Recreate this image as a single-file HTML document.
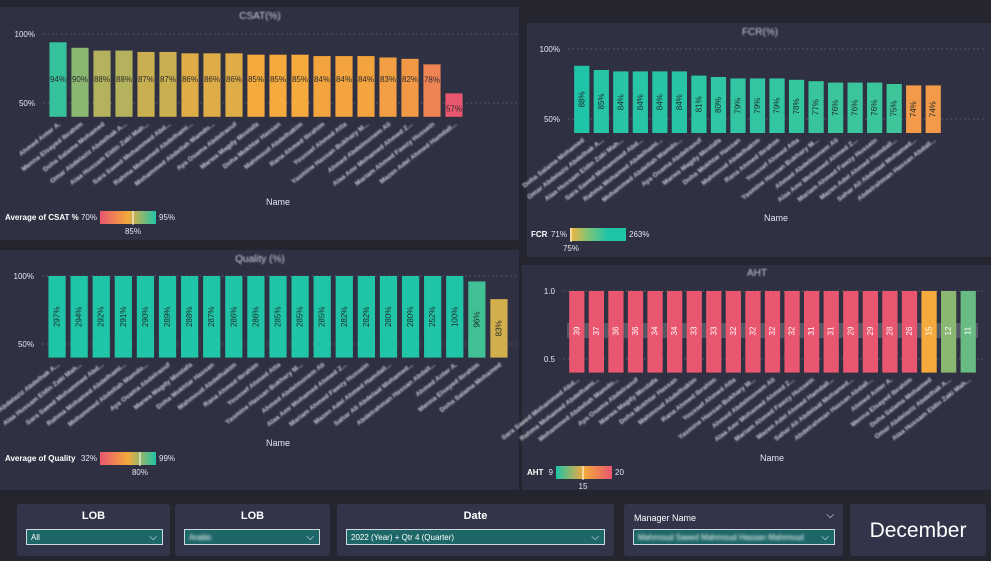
<!DOCTYPE html>
<html><head><meta charset="utf-8">
<style>
body{margin:0;width:991px;height:561px;background:#24252f;font-family:"Liberation Sans",sans-serif;overflow:hidden;position:relative}
.panel{position:absolute;background:#2f3142}
svg{position:absolute;left:0;top:0}
.flt{position:absolute;background:#32344a;border-radius:3px}
.flt .t{position:absolute;width:100%;text-align:center;top:6px;color:#fff;font-size:11px;font-weight:bold}
.dd{position:absolute;background:#1e6769;border:1px solid #cfd8dc;height:16px;color:#fff;font-size:8px;line-height:16px;padding-left:4px;box-sizing:border-box}
.dd span.ch{position:absolute;right:5px;top:0;font-size:10px}
.blur{filter:blur(1.3px)}
</style></head><body>
<div class="panel" style="left:0;top:7px;width:519px;height:233px"></div>
<div class="panel" style="left:527px;top:23px;width:464px;height:234px"></div>
<div class="panel" style="left:0;top:250px;width:519px;height:240px"></div>
<div class="panel" style="left:522px;top:265px;width:469px;height:225px"></div>
<svg id="chart" width="991" height="561"></svg>

<div class="flt" style="left:17px;top:504px;width:153px;height:52px"><div class="t">LOB</div>
<div class="dd" style="left:9px;top:25px;width:137px">All<span class="ch">⌵</span></div></div>
<div class="flt" style="left:175px;top:504px;width:155px;height:52px"><div class="t">LOB</div>
<div class="dd" style="left:9px;top:25px;width:136px"><span class="blur">Arabic</span><span class="ch">⌵</span></div></div>
<div class="flt" style="left:337px;top:504px;width:277px;height:52px"><div class="t">Date</div>
<div class="dd" style="left:9px;top:25px;width:259px">2022 (Year) + Qtr 4 (Quarter)<span class="ch">⌵</span></div></div>
<div class="flt" style="left:624px;top:504px;width:219px;height:52px"><div style="position:absolute;left:10px;top:9px;color:#fff;font-size:9px">Manager Name</div><div style="position:absolute;right:9px;top:6px;color:#fff;font-size:10px">⌵</div>
<div class="dd" style="left:9px;top:25px;width:202px"><span class="blur">Mahmoud Saeed Mahmoud Hassan Mahmoud</span><span class="ch">⌵</span></div></div>
<div class="flt" style="left:850px;top:504px;width:136px;height:52px"><div style="position:absolute;width:100%;text-align:center;top:15px;color:#fff;font-size:21px">December</div></div>

<script>
const names=["Ahmed Anter A.","Menna Elsayed Ibrahim","Doha Salama Mohamed","Omar Abdelaziz Abdelhak A...","Alaa Hussam Eldin Zaki Mah...","Sara Saeed Mohammed Abd...","Rahma Mohamed Abdelhami...","Mohammed Abdellah Mamdo...","Aya Osama Abdelraouf","Marwa Magdy Mostafa","Doha Mokhtar Hassan","Mahmoud Abdelhakim","Rana Ahmed Ibrahim","Youssef Ahmed Atta","Yasmine Hassan Bukhary M...","Ahmed Abdelmonem Ali","Alaa Amr Mohamed Ahmed Z...","Mariam Ahmed Fawzy Hussein","Mazen Adel Ahmed Hamdall...","Sahar Ali Abdelaal Mohamed...","Abdelrahman Hassan Abdall..."];
const csatValues=[94,90,88,88,87,87,86,86,86,85,85,85,84,84,84,83,82,78,57];
const fcrValues=[88,85,84,84,84,84,81,80,79,79,79,78,77,76,76,76,75,74,74];
const qualityValues=[297,294,292,291,290,289,288,287,286,286,285,285,285,282,282,280,280,252,100,96,83];
const ahtValues=[39,37,36,36,34,34,33,33,32,32,32,32,31,31,29,29,28,26,15,12,11];
const csatTicks=["100%","50%"];const fcrTicks=["100%","50%"];const qualityTicks=["100%","50%"];const ahtTicks=["1.0","0.5"];

const svg=document.getElementById('chart');const NS="http://www.w3.org/2000/svg";
function mk(tag,attrs,parent){const e=document.createElementNS(NS,tag);for(const k in attrs)e.setAttribute(k,attrs[k]);(parent||svg).appendChild(e);return e;}
function hex(c){return [parseInt(c.slice(1,3),16),parseInt(c.slice(3,5),16),parseInt(c.slice(5,7),16)];}
function mix(a,b,t){a=hex(a);b=hex(b);t=Math.max(0,Math.min(1,t));return 'rgb('+a.map((v,i)=>Math.round(v+(b[i]-v)*t)).join(',')+')';}
function colorScale(v,lo,mid,hi,cLo,cMid,cHi){if(v<=mid)return mix(cLo,cMid,(v-lo)/(mid-lo));return mix(cMid,cHi,(v-mid)/(hi-mid));}
const RED="#e8566f",ORG="#f4aa3c",TEAL="#20c4a6";

function chart(o){
  const n=o.values.length,pitch=(o.x1-o.x0)/n,bw=pitch*0.78;
  const y=v=>o.yTop+(o.tMax-v)*(o.yBot-o.yTop)/(o.tMax-o.tMin);
  const yBase=y(o.dMin);
  mk('text',{x:o.titleX,y:o.titleY,fill:'#c8cad4','font-size':10,'text-anchor':'middle',filter:'url(#bl)'}).textContent=o.title;
  [o.tMax,o.tMin].forEach((t,i)=>{
    const l=mk('line',{x1:o.x0-4,x2:o.gridEnd,y1:y(t),y2:y(t),stroke:'#5d6070','stroke-dasharray':'1.5,3'});
    
    const tx=mk('text',{x:o.x0-12,y:y(t)+3,fill:'#e6e6ee','font-size':8,'text-anchor':'end'});tx.textContent=o.ticks[i];
    
  });
  if(o.band){mk('rect',{x:o.x0,y:o.band-8,width:o.x1-o.x0,height:15,fill:'rgba(255,255,255,0.18)'});}
  o.values.forEach((v,i)=>{
    const cx=o.x0+pitch*(i+0.5);const top=y(Math.min(v,o.clip));
    const r=mk('rect',{x:cx-bw/2,y:top,width:bw,height:yBase-top,fill:o.color(v)});
    
    let t;
    if(o.vertical){const ly=o.band||((top+yBase)/2);t=mk('text',{x:cx,y:ly,fill:o.labelFill,'font-size':8,'text-anchor':'middle','dominant-baseline':'central',transform:'rotate(-90 '+cx+' '+ly+')'});}
    else{const ly=Math.max(top+6,o.labelY);t=mk('text',{x:cx,y:ly+12,fill:'#2a2a2a','font-size':8,'text-anchor':'middle'});}
    t.textContent=v+o.suffix;
    const nm=mk('text',{x:cx+3,y:yBase+8,fill:'#d4d6e0','font-size':6.8,'font-weight':'bold','text-anchor':'end',filter:'url(#bl)',transform:'rotate(-38 '+(cx+3)+' '+(yBase+8)+')'});
    nm.textContent=names[(i+o.nameOff)%names.length];
  });
  const xt=mk('text',{x:o.nameX,y:o.nameY,fill:'#e6e6ee','font-size':9,'text-anchor':'middle'});xt.textContent='Name';
  
  const L=o.leg;const gid='g'+o.key;const g=mk('linearGradient',{id:gid},defs);
  L.stops.forEach((c,i)=>mk('stop',{offset:(i/(L.stops.length-1)),'stop-color':c},g));
  mk('text',{x:L.x,y:L.y+9,fill:'#fff','font-size':8,'font-weight':'bold'}).textContent=L.label;
  mk('text',{x:L.gx-3,y:L.y+9,fill:'#e6e6ee','font-size':8,'text-anchor':'end'}).textContent=L.min;
  const lr=mk('rect',{x:L.gx,y:L.y,width:56,height:13,fill:'url(#'+gid+')'});
  mk('text',{x:L.gx+59,y:L.y+9,fill:'#e6e6ee','font-size':8}).textContent=L.max;
  mk('line',{x1:L.mx,x2:L.mx,y1:L.y,y2:L.y+14,stroke:'#fff','stroke-width':1});
  mk('text',{x:L.mx,y:L.y+23,fill:'#e6e6ee','font-size':8,'text-anchor':'middle'}).textContent=L.mid;
}
const defs=mk('defs',{});
const f=mk('filter',{id:'bl'},defs);mk('feGaussianBlur',{stdDeviation:0.9},f);

chart({key:'csat',values:csatValues,ticks:csatTicks,x0:47,x1:465,yTop:34,yBot:103,tMax:100,tMin:50,dMin:40,clip:100,gridEnd:517,suffix:'%',labelY:70,
 color:v=>colorScale(v,70,85,95,RED,ORG,TEAL),title:'CSAT(%)',titleX:260,titleY:19,nameOff:0,nameX:278,nameY:205,
 leg:{x:5,y:211,gx:100,label:'Average of CSAT %',min:'70%',max:'95%',mid:'85%',mx:133,stops:[RED,ORG,TEAL]}});
chart({key:'fcr',values:fcrValues,ticks:fcrTicks,x0:572,x1:943,yTop:49,yBot:119,tMax:100,tMin:50,dMin:40,clip:100,gridEnd:985,suffix:'%',vertical:true,labelFill:'#1d2b2b',
 color:v=>v<75?'#f39a4a':colorScale(v,75,80,88,'#3ec59a','#2ec6a3',TEAL),title:'FCR(%)',titleX:760,titleY:35,nameOff:2,nameX:776,nameY:221,
 leg:{x:531,y:228,gx:570,label:'FCR',min:'71%',max:'263%',mid:'75%',mx:571,stops:['#f4b43c','#7cc47a',TEAL,TEAL]}});
chart({key:'quality',values:qualityValues,ticks:qualityTicks,x0:46,x1:510,yTop:276,yBot:344,tMax:100,tMin:50,dMin:40,clip:100,gridEnd:517,suffix:'%',vertical:true,labelFill:'#1d2b2b',
 color:v=>colorScale(v,32,80,99,RED,ORG,TEAL),title:'Quality (%)',titleX:260,titleY:262,nameOff:3,nameX:278,nameY:446,
 leg:{x:5,y:452,gx:100,label:'Average of Quality',min:'32%',max:'99%',mid:'80%',mx:140,stops:[RED,ORG,TEAL]}});
chart({key:'aht',values:ahtValues,ticks:ahtTicks,x0:567,x1:978,yTop:291,yBot:359,tMax:1,tMin:0.5,dMin:0.4,clip:1,gridEnd:985,suffix:'',vertical:true,labelFill:'#fff',band:331,
 color:v=>colorScale(v,9,15,20,TEAL,ORG,RED),title:'AHT',titleX:757,titleY:276,nameOff:5,nameX:772,nameY:461,
 leg:{x:527,y:466,gx:556,label:'AHT',min:'9',max:'20',mid:'15',mx:583,stops:[TEAL,ORG,RED]}});
</script>
</body></html>
